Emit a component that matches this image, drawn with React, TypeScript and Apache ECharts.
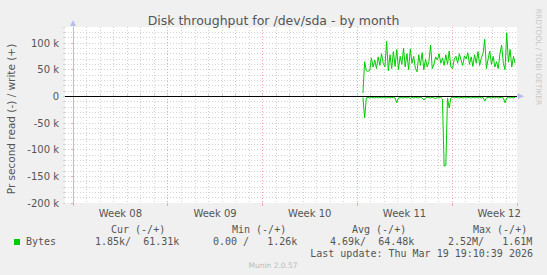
import React, { useEffect, useRef } from 'react';
import * as echarts from 'echarts';

const TITLE = 'Disk throughput for /dev/sda - by month';
const Y_NAME = 'Pr second read (-) / write (+)';
const WEEK_LABELS = ['Week 08', 'Week 09', 'Week 10', 'Week 11', 'Week 12'];
const LEGEND_HEADERS = ['Cur (-/+)', 'Min (-/+)', 'Avg (-/+)', 'Max (-/+)'];
const LEGEND_VALUES = ['1.85k/  61.31k', '0.00 /   1.26k', '4.69k/  64.48k', '2.52M/   1.61M'];
const SERIES_NAME = 'Bytes';
const LAST_UPDATE = 'Last update: Thu Mar 19 19:10:39 2026';
const FOOTER = 'Munin 2.0.57';
const WATERMARK = 'RRDTOOL / TOBI OETIKER';

// time in days, day 0 = first week boundary on the chart; samples every 3 h
const SAMPLE_START_DAY = 21.43;
const SAMPLE_STEP_DAY = 0.125;

// write bytes per second (thousands)
const writeK = [
  6, 65, 48, 47, 48, 72, 55, 68, 52, 74,
  58, 80, 62, 55, 103, 48, 78, 52, 84, 56,
  88, 50, 75, 60, 90, 55, 80, 50, 89, 62,
  75, 52, 46, 78, 58, 82, 50, 70, 55, 65,
  96, 52, 60, 74, 68, 80, 62, 72, 58, 78,
  60, 85, 55, 52, 70, 75, 62, 80, 68, 58,
  76, 70, 82, 60, 74, 56, 78, 62, 84, 58,
  72, 80, 107, 52, 70, 85, 60, 75, 55, 65,
  52, 80, 96, 62, 50, 119, 64, 88, 55, 75,
  62,
];

// read bytes per second (thousands), drawn below zero
const readK = [
  2, 40, 3, 2, 3, 2, 2.5, 3, 2, 3,
  2, 3, 2, 2.5, 3, 2, 3, 2, 2.5, 3,
  12, 3, 2, 2.5, 3, 2, 3, 2, 4, 2,
  3, 2, 2.5, 3, 2, 3, 7, 3, 2, 2.5,
  3, 2, 3, 4, 2, 3, 2, 5, 131, 129,
  3, 22, 3, 2, 3, 2, 2.5, 3, 2, 3,
  2, 3, 2, 2.5, 3, 2, 3, 2, 3, 2,
  3, 2, 9, 3, 2, 2.5, 3, 2, 3, 2,
  3, 2, 2.5, 3, 12, 3, 2, 3, 2, 3,
  2,
];

const Y_MIN = -200000;
const Y_MAX = 130000;

const FONT = 'DejaVu Sans';
const MONO = 'DejaVu Sans Mono';
const GREEN = '#00cc00';
const AXIS_COLOR = '#b8bff0';
const GRID_GRAY = '#d2d2d2';
const GRID_RED = '#eeaaaa';
const TEXT = '#555';

const DOT: number[] = [1, 2];

export default function App() {
  const ref = useRef<HTMLDivElement>(null);
  useEffect(() => {
    const chart = echarts.init(ref.current!, null, { renderer: 'svg' });
    const writeData = writeK.map((v, i) => [SAMPLE_START_DAY + i * SAMPLE_STEP_DAY, v * 1000]);
    const readData = readK.map((v, i) => [SAMPLE_START_DAY + i * SAMPLE_STEP_DAY, -v * 1000]);
    const dayMin = -8 / 13.53;
    const dayMax = 444 / 13.53;

    const legendTexts: any[] = [];
    const headerX = [111, 232, 352, 473];
    const valueX = [95, 213, 330, 448];
    LEGEND_HEADERS.forEach((t, i) => {
      legendTexts.push({
        type: 'text', x: headerX[i], y: 229,
        style: { text: t, font: `10px "${MONO}"`, fill: TEXT, verticalAlign: 'middle', align: 'left' },
      });
    });
    LEGEND_VALUES.forEach((t, i) => {
      legendTexts.push({
        type: 'text', x: valueX[i], y: 241.5,
        style: { text: t, font: `10px "${MONO}"`, fill: TEXT, verticalAlign: 'middle', align: 'left' },
      });
    });

    const option: any = {
      animation: false,
      backgroundColor: '#f0f0f0',
      grid: [
        { left: 65, top: 27, width: 452, height: 176, show: true, backgroundColor: '#ffffff', borderWidth: 0 },
        { left: 73, top: 27, width: 444, height: 176, show: false },
      ],
      xAxis: [
        {
          gridIndex: 0, type: 'value', min: dayMin, max: dayMax, position: 'bottom',
          axisLine: { show: true, lineStyle: { color: AXIS_COLOR, width: 1 }, symbol: ['none', 'triangle'], symbolSize: [6, 6], symbolOffset: [0, 4] },
          axisTick: { show: false }, axisLabel: { show: false }, splitLine: { show: false },
        },
        {
          gridIndex: 1, type: 'value', min: 0, max: dayMax, interval: 1, position: 'bottom',
          axisLine: { show: false },
          axisTick: { show: true, inside: true, length: 2, lineStyle: { color: GRID_GRAY } },
          axisLabel: { show: false },
          splitLine: { show: true, showMaxLine: false, lineStyle: { color: GRID_GRAY, type: DOT, width: 1 } },
        },
        {
          gridIndex: 1, type: 'value', min: 0, max: dayMax, interval: 7, position: 'bottom',
          axisLine: { show: false },
          axisTick: { show: true, inside: false, length: 3, lineStyle: { color: GRID_RED } },
          axisLabel: { show: false },
          splitLine: { show: true, showMaxLine: false, lineStyle: { color: GRID_RED, type: DOT, width: 1 } },
        },
        {
          gridIndex: 1, type: 'value', min: 0, max: dayMax, interval: 3.5, position: 'bottom',
          axisLine: { show: false }, axisTick: { show: false }, splitLine: { show: false },
          axisLabel: {
            show: true, margin: 5, showMaxLabel: false, color: TEXT, fontFamily: FONT, fontSize: 10,
            formatter: (v: number) => {
              const h = Math.round(v * 2);
              return h % 2 === 1 ? WEEK_LABELS[Math.floor(v / 7)] || '' : '';
            },
          },
        },
      ],
      yAxis: [
        {
          gridIndex: 0, type: 'value', min: Y_MIN, max: Y_MAX, interval: 50000, position: 'left',
          axisLine: { show: true, lineStyle: { color: AXIS_COLOR, width: 1 }, symbol: ['none', 'triangle'], symbolSize: [6, 6], symbolOffset: [0, 4] },
          axisTick: { show: true, length: 2, lineStyle: { color: GRID_RED } },
          axisLabel: {
            show: true, margin: 6, showMaxLabel: false, color: TEXT, fontFamily: FONT, fontSize: 10,
            formatter: (v: number) => (v === 0 ? '0' : `${Math.round(v / 1000)} k`),
          },
          splitLine: { show: true, showMinLine: false, showMaxLine: false, lineStyle: { color: GRID_RED, type: DOT, width: 1 } },
        },
        {
          gridIndex: 0, type: 'value', min: Y_MIN, max: Y_MAX, interval: 10000, position: 'left',
          axisLine: { show: false }, axisLabel: { show: false },
          axisTick: { show: true, length: 2, lineStyle: { color: GRID_GRAY } },
          splitLine: { show: true, showMinLine: false, showMaxLine: false, lineStyle: { color: GRID_GRAY, type: DOT, width: 1 } },
        },
        { gridIndex: 1, type: 'value', min: Y_MIN, max: Y_MAX, show: false, splitLine: { show: false } },
      ],
      series: [
        {
          name: 'write', type: 'line', xAxisIndex: 0, yAxisIndex: 0, data: writeData,
          showSymbol: false, symbol: 'none', lineStyle: { color: GREEN, width: 1 }, itemStyle: { color: GREEN }, z: 3,
        },
        {
          name: 'read', type: 'line', xAxisIndex: 0, yAxisIndex: 0, data: readData,
          showSymbol: false, symbol: 'none', lineStyle: { color: GREEN, width: 1 }, itemStyle: { color: GREEN }, z: 3,
          markLine: {
            silent: true, symbol: ['none', 'none'], label: { show: false },
            lineStyle: { color: '#000000', width: 1, type: 'solid' },
            data: [{ yAxis: 0 }],
          },
        },
      ],
      graphic: [
        {
          type: 'text', x: 273.5, y: 20,
          style: { text: TITLE, font: `12.5px "${FONT}"`, fill: TEXT, align: 'center', verticalAlign: 'middle' },
        },
        {
          type: 'text', x: 11, y: 119, rotation: Math.PI / 2,
          style: { text: Y_NAME, font: `10.5px "${FONT}"`, fill: TEXT, align: 'center', verticalAlign: 'middle' },
        },
        {
          type: 'text', x: 538, y: 57, rotation: -Math.PI / 2,
          style: { text: WATERMARK, font: `7.5px "${FONT}"`, fill: '#c8c8c8', align: 'center', verticalAlign: 'middle' },
        },
        { type: 'rect', shape: { x: 14, y: 239, width: 6, height: 6 }, style: { fill: GREEN } },
        {
          type: 'text', x: 26, y: 241.5,
          style: { text: SERIES_NAME, font: `10px "${MONO}"`, fill: TEXT, align: 'left', verticalAlign: 'middle' },
        },
        ...legendTexts,
        {
          type: 'text', x: 533, y: 253.5,
          style: { text: LAST_UPDATE, font: `10px "${MONO}"`, fill: TEXT, align: 'right', verticalAlign: 'middle' },
        },
        {
          type: 'text', x: 273, y: 265,
          style: { text: FOOTER, font: `7.5px "${FONT}"`, fill: '#bbbbbb', align: 'center', verticalAlign: 'middle' },
        },
      ],
    };
    chart.setOption(option);
    return () => chart.dispose();
  }, []);
  return <div ref={ref} style={{ position: 'absolute', left: 0, top: 0, width: 547, height: 275 }} />;
}
